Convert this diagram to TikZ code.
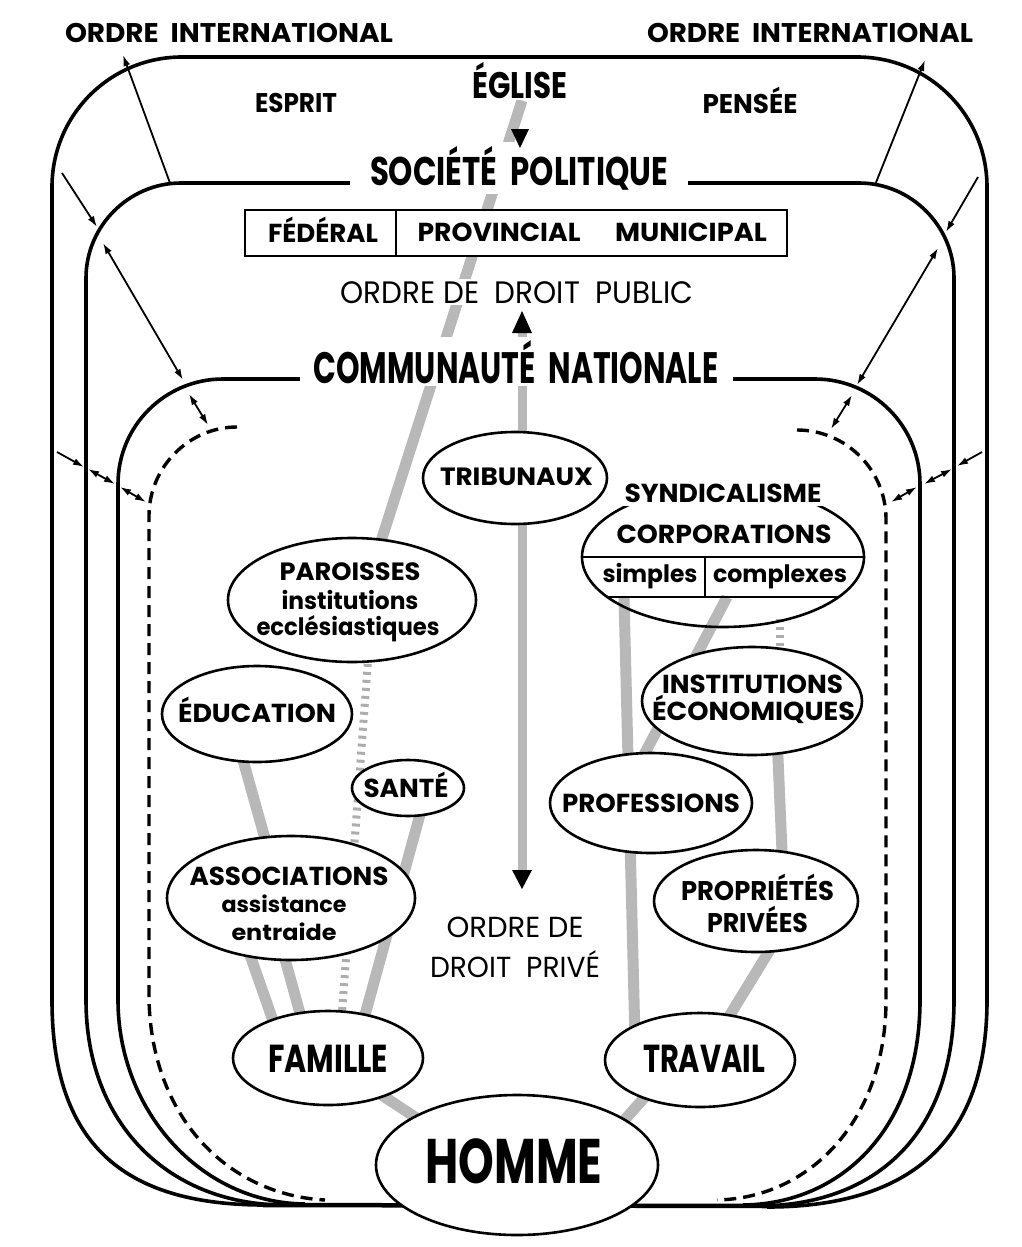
\documentclass[tikz,border=0pt]{standalone}
\usepackage{fontspec}
\setmainfont{Poppins}
\usepackage{graphicx}
\usetikzlibrary{shapes.geometric,arrows.meta,calc}
\pgfdeclarelayer{bg}
\pgfsetlayers{bg,main}
\newsavebox\fitbx
\newcommand\fw[2]{\sbox\fitbx{#2}\pgfmathsetmacro\fitr{#1/\the\wd\fitbx}\scalebox{\fitr}[1]{\usebox\fitbx}}
\newcommand\txl[3]{\raisebox{#2}[0pt][0pt]{\makebox[0pt][l]{\hspace*{#1}\makebox[0pt]{#3}}}}
\newcommand\bsz[1]{\bfseries\fontsize{#1}{#1}\selectfont}
\newcommand\rsz[1]{\mdseries\fontsize{#1}{#1}\selectfont}
\tikzset{
  lab/.style={inner sep=0pt, anchor=base},
  wlab/.style={lab, fill=white, inner xsep=3pt, inner ysep=2pt},
  ell/.style={ellipse, draw, line width=2.6pt, fill=white, inner sep=0pt},
  boxline/.style={line width=3.6pt},
  dline/.style={line width=3.4pt, dash pattern=on 12pt off 7pt},
  band/.style={line width=11pt, draw=black!28},
  dband/.style={line width=8pt, draw=black!32, dash pattern=on 3pt off 5pt},
  arr1/.style={-{Latex[length=11pt,width=7pt]}, line width=1.8pt},
  arr2/.style={{Latex[length=11pt,width=7pt]}-{Latex[length=11pt,width=7pt]}, line width=1.8pt},
  part/.style={line width=2.2pt},
}
\begin{document}
\begin{tikzpicture}[x=1pt,y=-1pt]
\useasboundingbox (0,0) rectangle (1021,1247);

% ---------- text labels ----------
\node[lab, font=\bsz{27}] (oiL) at (229,43) {\fw{328}{ORDRE\ \ INTERNATIONAL}};
\node[lab, font=\bsz{27}] (oiR) at (810,43) {\fw{326}{ORDRE\ \ INTERNATIONAL}};
\node[lab, font=\bsz{27}] (esprit) at (296,112) {\fw{82}{ESPRIT}};
\node[lab, font=\bsz{27}] (pensee) at (750,113) {\fw{95}{PENSÉE}};
\node[wlab, font=\bsz{37}] (eglise) at (520,98) {\fw{95}{ÉGLISE}};
\node[wlab, inner xsep=20pt, inner ysep=4pt, font=\bsz{40}] (soc) at (519,185) {\fw{298}{SOCIÉTÉ\ \ POLITIQUE}};

\node[draw, line width=2.2pt, fill=white, minimum width=542, minimum height=46, inner sep=0pt] (gov) at (516,233) {};
\draw[part] ($(gov.north west)+(152,0)$) -- ($(gov.south west)+(152,0)$);
\node[lab, font=\bsz{26}] (fed) at (323,242) {\fw{110}{FÉDÉRAL}};
\node[lab, font=\bsz{26}] (prov) at (499,241) {\fw{163}{PROVINCIAL}};
\node[lab, font=\bsz{26}] (mun) at (691,241) {\fw{152}{MUNICIPAL}};

\node[wlab, font=\rsz{31}] (pub) at (517,303) {\fw{353}{ORDRE\ DE\ \ DROIT\ \ PUBLIC}};
\node[wlab, inner xsep=14pt, inner ysep=3pt, font=\bsz{44}] (comm) at (516,383) {\fw{405}{COMMUNAUTÉ\ \ NATIONALE}};

\node[inner sep=0pt, font=\rsz{29}] (priv) at (515,947) {\txl{0pt}{10pt}{\fw{137}{ORDRE\ DE}}\txl{0pt}{-30pt}{\fw{170}{DROIT\ \ PRIVÉ}}};

% ---------- ellipses ----------
\node[ell, minimum width=184, minimum height=92, font=\bsz{25}] (trib) at (515,478) {\txl{1.5pt}{-7pt}{\fw{153}{TRIBUNAUX}}};
\node[ell, minimum width=248, minimum height=124, font=\bsz{25}] (par) at (352,600) {\txl{-2pt}{20pt}{\fw{141}{PAROISSES}}\txl{-2pt}{-9pt}{\fw{137}{\bsz{24}institutions}}\txl{-4pt}{-35pt}{\fw{183}{\bsz{24}ecclésiastiques}}};
\node[ell, minimum width=190, minimum height=96, font=\bsz{26}] (educ) at (257,714) {\txl{0pt}{-8pt}{\fw{158}{ÉDUCATION}}};
\node[ell, minimum width=112, minimum height=56, font=\bsz{26}] (sante) at (408,788) {\txl{-2pt}{-9pt}{\fw{85}{SANTÉ}}};
\node[ell, minimum width=248, minimum height=124, font=\bsz{26}] (assoc) at (291,898) {\txl{-2pt}{13pt}{\fw{199}{ASSOCIATIONS}}\txl{-7pt}{-14pt}{\fw{125}{\bsz{22}assistance}}\txl{-7pt}{-42pt}{\fw{105}{\bsz{22}entraide}}};
\node[ell, minimum width=190, minimum height=94, font=\bsz{39}] (fam) at (328,1058) {\txl{0pt}{-14pt}{\fw{120}{FAMILLE}}};
\node[ell, minimum width=190, minimum height=94, font=\bsz{39}] (trav) at (700,1060) {\txl{4pt}{-12pt}{\fw{122}{TRAVAIL}}};
\node[ell, minimum width=282, minimum height=140, font=\bsz{63}] (homme) at (517,1165) {\txl{-3pt}{-18pt}{\fw{177}{HOMME}}};
\node[ell, fill=none, minimum width=282, minimum height=140, font=\bsz{26}] (corp) at (723,557) {\txl{1pt}{14pt}{\fw{215}{CORPORATIONS}}\txl{-73pt}{-25pt}{\fw{95}{\bsz{24}simples}}\txl{57pt}{-25pt}{\fw{134}{\bsz{24}complexes}}};
\node[wlab, inner ysep=4pt, font=\bsz{26}] (synd) at (723,502) {\fw{197}{SYNDICALISME}};
\draw[part] (corp.west) -- (corp.east);
\draw[part] (corp.199) -- (corp.341);
\draw[part] ($(corp.center)+(-18,0)$) -- ($(corp.center)+(-18,40)$);
\node[ell, minimum width=220, minimum height=108, font=\bsz{26}] (inst) at (752,701) {\txl{0.5pt}{8pt}{\fw{181}{INSTITUTIONS}}\txl{1.5pt}{-19pt}{\fw{203}{ÉCONOMIQUES}}};
\node[ell, minimum width=202, minimum height=100, font=\bsz{26}] (prof) at (651,803) {\txl{0pt}{-9pt}{\fw{178}{PROFESSIONS}}};
\node[ell, minimum width=204, minimum height=102, font=\bsz{27}] (prop) at (756,901) {\txl{1.5pt}{1pt}{\fw{153}{PROPRIÉTÉS}}\txl{1.5pt}{-31pt}{\fw{101}{PRIVÉES}}};

% ---------- central axis ----------
\coordinate (pubtip) at (522,333);
\coordinate (privtip) at (522,870);
\fill (511,129) -- (529,129) -- (520,148) -- cycle;
\fill (512,333) -- (532,333) -- (522,311) -- cycle;
\fill (512,870) -- (532,870) -- (522,889) -- cycle;

% ---------- background: frames and bands ----------
\begin{pgfonlayer}{bg}
\fill[white] (0,0) rectangle (1021,1247);
% Eglise frame
\draw[boxline] (265,1205) .. controls (130,1205) and (52,1150) .. (52,1000) -- (52,187) .. controls (52,115) and (110,57) .. (182,57) -- (857,57) .. controls (929,57) and (987,115) .. (987,187) -- (987,1000) .. controls (987,1150) and (900,1207) .. (767,1207);
% Societe politique frame
\draw[boxline] (285,1205) .. controls (170,1205) and (86,1125) .. (86,1000) -- (86,278) .. controls (86,226) and (129,183) .. (181,183) -- (859,183) .. controls (911,183) and (954,226) .. (954,278) -- (954,1000) .. controls (954,1140) and (870,1206) .. (757,1206);
% Communaute nationale frame
\draw[boxline] (305,1204) .. controls (200,1203) and (118,1110) .. (118,1000) -- (118,484) .. controls (118,426) and (165,379) .. (223,379) -- (815,379) .. controls (873,379) and (920,426) .. (920,484) -- (920,1000) .. controls (920,1130) and (840,1204) .. (743,1205);
% dashed inner frame
\draw[dline] (237,427) .. controls (189,427) and (149,467) .. (149,516) -- (149,1000) .. controls (152,1120) and (230,1195) .. (325,1200);
\draw[dline] (797,430) .. controls (846,430) and (886,470) .. (886,519) -- (886,1000) .. controls (886,1120) and (810,1198) .. (717,1200);
\draw[boxline, line width=4.5pt] (263,1205) -- (770,1206);
% bands
\draw[band] ($(eglise.south)+(2,0)$) -- ($(par.center)+(23,-40)$);
\draw[dband] ($(par.center)+(17.5,40)$) -- ($(fam.center)+(12.7,-28)$);
\draw[band] ($(educ.center)+(-19.6,26)$) -- ($(assoc.center)+(-20,-38)$);
\draw[band] ($(assoc.center)+(-48,37)$) -- ($(fam.center)+(-50,-23)$);
\draw[band] ($(assoc.center)+(-12.7,37)$) -- ($(fam.center)+(-22,-23)$);
\draw[band] ($(sante.center)+(16,12)$) -- ($(fam.center)+(31.5,-23)$);
\draw[band] ($(fam.center)+(38.7,27)$) -- ($(homme.center)+(-75,-30)$);
\draw[band] ($(trav.center)+(-40,20)$) -- ($(homme.center)+(89.6,-25)$);
\draw[band] ($(corp.center)+(-99,40)$) -- ($(trav.center)+(-65,-20)$);
\draw[band] ($(corp.center)+(4,40)$) -- ($(prof.center)+(-17.6,-28)$);
\draw[dband] ($(corp.center)+(57,62)$) -- ($(inst.center)+(28,-31)$);
\draw[band] ($(inst.center)+(25,34)$) -- ($(prop.center)+(26.8,-31)$);
\draw[band] ($(prop.center)+(26,29)$) -- ($(trav.center)+(17.7,-25)$);
\draw[band, line width=9pt] (pubtip) -- (privtip);
\end{pgfonlayer}

% ---------- thin arrows between the orders ----------
\coordinate (a1s) at (170,183); \coordinate (a1e) at (123,55);
\coordinate (a2s) at (62,173);  \coordinate (a2e) at (97,227);
\coordinate (a3s) at (103,243); \coordinate (a3e) at (183,380);
\coordinate (a4s) at (189,394); \coordinate (a4e) at (208,425);
\coordinate (a5s) at (57,452);  \coordinate (a5e) at (84,467);
\coordinate (a6s) at (88,469);  \coordinate (a6e) at (115,484);
\coordinate (a7s) at (120,487); \coordinate (a7e) at (146,502);
\coordinate (b1s) at (875,185); \coordinate (b1e) at (925,60);
\coordinate (b2s) at (978,177); \coordinate (b2e) at (946,232);
\coordinate (b3s) at (938,248); \coordinate (b3e) at (857,385);
\coordinate (b4s) at (852,395); \coordinate (b4e) at (831,429);
\coordinate (b5s) at (982,452); \coordinate (b5e) at (957,466);
\coordinate (b6s) at (952,469); \coordinate (b6e) at (924,484);
\coordinate (b7s) at (917,487); \coordinate (b7e) at (891,502);
\draw[arr1] (a1s) -- (a1e);
\draw[arr1] (a2s) -- (a2e);
\draw[arr2] (a3s) -- (a3e);
\draw[arr2] (a4s) -- (a4e);
\draw[arr1] (a5s) -- (a5e);
\draw[arr2] (a6s) -- (a6e);
\draw[arr2] (a7s) -- (a7e);
\draw[arr1] (b1s) -- (b1e);
\draw[arr1] (b2s) -- (b2e);
\draw[arr2] (b3s) -- (b3e);
\draw[arr2] (b4s) -- (b4e);
\draw[arr1] (b5s) -- (b5e);
\draw[arr2] (b6s) -- (b6e);
\draw[arr2] (b7s) -- (b7e);
\end{tikzpicture}
\end{document}
